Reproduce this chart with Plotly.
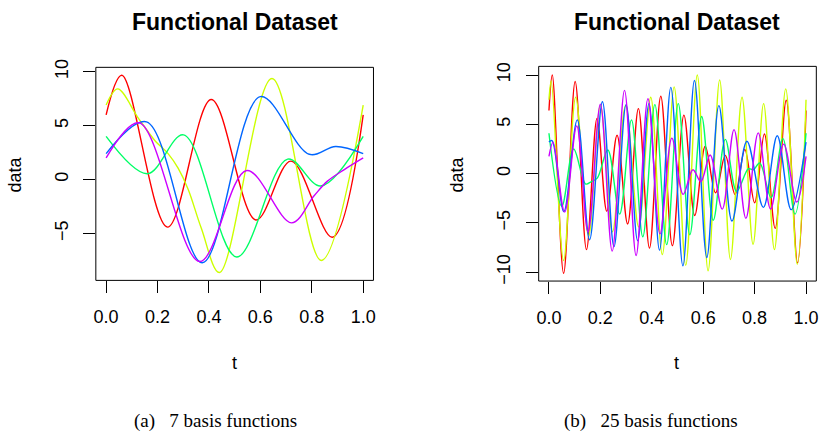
import plotly.graph_objects as go

# ---------------- data ----------------
colors = ["#FF0000", "#CCFF00", "#00FF66", "#0066FF", "#CC00FF"]

# panel (a): 7 basis functions
a_red_t = [0, 0.061, 0.239, 0.409, 0.583, 0.719, 0.88, 1.0]
a_red_v = [6.0, 9.67, -4.41, 7.42, -3.75, 1.71, -5.35, 6.0]
a_yel_t = [0, 0.045, 0.125, 0.19, 0.241, 0.28, 0.319, 0.37, 0.441, 0.645, 0.837, 1.0]
a_yel_v = [6.9, 8.4, 5.7, 3.6, 2.4, 1.05, -0.9, -4.5, -8.62, 9.37, -7.5, 6.9]
a_grn_t = [0, 0.161, 0.301, 0.508, 0.706, 0.835, 1.0]
a_grn_v = [4.0, 0.54, 4.14, -7.18, 1.89, -0.6, 4.0]
a_blu_t = [0, 0.157, 0.374, 0.6, 0.79, 0.893, 1.0]
a_blu_v = [2.4, 5.35, -7.72, 7.69, 2.34, 3.06, 2.4]
a_mag_t = [0, 0.128, 0.364, 0.547, 0.721, 0.809, 0.861, 0.925, 1.0]
a_mag_v = [2.0, 5.26, -7.6, 0.84, -4.02, -1.5, -0.15, 0.9, 2.0]

# panel (b): 25 basis functions
b_red_t = [0, 0.013, 0.057, 0.102, 0.146, 0.187, 0.225, 0.265, 0.306, 0.348, 0.391, 0.435, 0.48,
           0.525, 0.567, 0.608, 0.648, 0.686, 0.724, 0.762, 0.8, 0.838, 0.88, 0.923, 0.967, 1.0]
b_red_v = [6.4, 10.0, -10.1, 9.35, -7.7, 5.6, -3.8, 3.9, -5.1, 6.6, -7.55, 7.85, -7.3,
           5.94, -4.24, 2.78, -1.94, 1.84, -2.1, 2.45, -2.95, 4.02, -5.55, 7.45, -9.05, 6.4]
b_yel_t = [0, 0.009, 0.057, 0.104, 0.154, 0.2, 0.247, 0.298, 0.349, 0.396, 0.441, 0.487,
           0.532, 0.577, 0.619, 0.664, 0.706, 0.751, 0.794, 0.835, 0.877, 0.921, 0.966, 1.0]
b_yel_v = [7.5, 9.4, -8.8, 7.75, -6.3, 6.9, -5.9, 6.9, -5.4, 7.75, -8.2, 8.8,
           -9.3, 10.0, -9.85, 9.5, -8.7, 7.75, -7.15, 7.1, -7.7, 8.6, -9.2, 7.5]
b_grn_t = [0, 0.05, 0.096, 0.143, 0.165, 0.188, 0.229, 0.275, 0.321, 0.365, 0.412, 0.458,
           0.503, 0.548, 0.594, 0.639, 0.686, 0.73, 0.776, 0.795, 0.82, 0.864, 0.91, 0.957, 1.0]
b_grn_v = [4.1, -3.3, 2.5, -1.05, -0.8, -0.45, 2.4, -4.1, 5.45, -6.4, 7.0, -7.2,
           7.1, -6.2, 5.8, -4.73, 3.48, -1.8, 0.5, 0.4, 1.08, -2.43, 3.55, -4.1, 4.1]
b_blu_t = [0, 0.012, 0.058, 0.11, 0.158, 0.208, 0.253, 0.3, 0.345, 0.389, 0.43, 0.474,
           0.521, 0.566, 0.614, 0.661, 0.712, 0.77, 0.834, 0.888, 0.942, 1.0]
b_blu_v = [3.2, 3.35, -3.85, 5.45, -6.7, 7.3, -7.4, 7.0, -6.8, 7.1, -7.75, 8.75,
           -9.35, 9.45, -8.5, 6.9, -4.8, 3.28, -3.42, 3.85, -3.65, 3.2]
b_mag_t = [0, 0.016, 0.061, 0.108, 0.152, 0.2, 0.246, 0.294, 0.339, 0.385, 0.432, 0.478,
           0.522, 0.56, 0.591, 0.627, 0.674, 0.72, 0.766, 0.814, 0.862, 0.913, 0.964, 1.0]
b_mag_v = [1.75, 3.2, -3.9, 4.85, -5.9, 7.05, -7.85, 8.45, -8.3, 7.6, -6.1, 3.6,
           -2.1, 0.4, -0.8, 1.9, -3.6, 4.47, -4.53, 4.14, -3.58, 3.0, -2.88, 1.75]

x_ticks = [0, 0.2, 0.4, 0.6, 0.8, 1.0]
x_ticktext = ["0.0", "0.2", "0.4", "0.6", "0.8", "1.0"]
a_yticks = [-5, 0, 5, 10]
b_yticks = [-10, -5, 0, 5, 10]
titles = ["Functional Dataset", "Functional Dataset"]
captions = ["(a)\u00a0\u00a0 7 basis functions", "(b)\u00a0\u00a0 25 basis functions"]

# ---------------- figure ----------------
W, H = 821, 441
SANS = "Liberation Sans, Arial, Helvetica, sans-serif"
SERIF = "Liberation Serif, Times New Roman, serif"

fig = go.Figure()

panel_a = [(a_red_t, a_red_v), (a_yel_t, a_yel_v), (a_grn_t, a_grn_v), (a_blu_t, a_blu_v), (a_mag_t, a_mag_v)]
panel_b = [(b_red_t, b_red_v), (b_yel_t, b_yel_v), (b_grn_t, b_grn_v), (b_blu_t, b_blu_v), (b_mag_t, b_mag_v)]

for (t, v), c in zip(panel_a, colors):
    fig.add_trace(go.Scatter(x=t, y=v, mode="lines", xaxis="x", yaxis="y",
                             line=dict(color=c, width=1.4, shape="spline", smoothing=1.0),
                             showlegend=False, hoverinfo="skip"))
for (t, v), c in zip(panel_b, colors):
    fig.add_trace(go.Scatter(x=t, y=v, mode="lines", xaxis="x2", yaxis="y2",
                             line=dict(color=c, width=1.4, shape="spline", smoothing=1.0),
                             showlegend=False, hoverinfo="skip"))

def px_x(p):
    return p / W

def px_y(p):
    return 1 - p / H

axis_common = dict(showgrid=False, zeroline=False, showline=False, ticks="outside",
                   ticklen=12, tickwidth=1, tickcolor="black",
                   tickfont=dict(family=SANS, size=18, color="black"), fixedrange=True)

fig.update_layout(
    width=W, height=H, margin=dict(l=0, r=0, t=0, b=0),
    paper_bgcolor="white", plot_bgcolor="white",
    xaxis=dict(domain=[px_x(94.3), px_x(373.3)], range=[-0.04, 1.04], anchor="y",
               tickvals=x_ticks, ticktext=x_ticktext, ticklabelstandoff=8, **axis_common),
    yaxis=dict(domain=[px_y(280), px_y(61)], range=[-9.35, 10.40], anchor="x",
               tickvals=a_yticks, tickangle=-90, ticklabelstandoff=8, **axis_common),
    xaxis2=dict(domain=[px_x(539.3), px_x(818.3)], range=[-0.04, 1.04], anchor="y2",
                tickvals=x_ticks, ticktext=x_ticktext, ticklabelstandoff=8, **axis_common),
    yaxis2=dict(domain=[px_y(280.7), px_y(60)], range=[-10.89, 10.88], anchor="x2",
                tickvals=b_yticks, tickangle=-90, ticklabelstandoff=8, **axis_common),
)

# boxes
for xr, yr in [("x domain", "y domain"), ("x2 domain", "y2 domain")]:
    fig.add_shape(type="rect", xref=xr, yref=yr, x0=0, x1=1, y0=0, y1=1,
                  line=dict(color="black", width=1), layer="above")

# titles and labels
for cx, title in zip([233.8, 678.8], titles):
    fig.add_annotation(x=px_x(cx), y=px_y(14), xref="paper", yref="paper", text="<b>%s</b>" % title,
                       showarrow=False, xanchor="center", yanchor="middle",
                       font=dict(family=SANS, size=23, color="black"))
for cx in [233.3, 678.3]:
    fig.add_annotation(x=px_x(cx), y=px_y(365), xref="paper", yref="paper", text="t",
                       showarrow=False, xanchor="center", yanchor="middle",
                       font=dict(family=SANS, size=18, color="black"))
for cx in [13.3, 457.5]:
    fig.add_annotation(x=px_x(cx), y=px_y(171), xref="paper", yref="paper", text="data",
                       showarrow=False, xanchor="center", yanchor="middle", textangle=-90,
                       font=dict(family=SANS, size=18, color="black"))
for lx, cap in zip([131, 562.7], captions):
    fig.add_annotation(x=px_x(lx), y=px_y(425), xref="paper", yref="paper", text=cap,
                       showarrow=False, xanchor="left", yanchor="middle",
                       font=dict(family=SERIF, size=19, color="black"))

fig.write_html("out.html")
